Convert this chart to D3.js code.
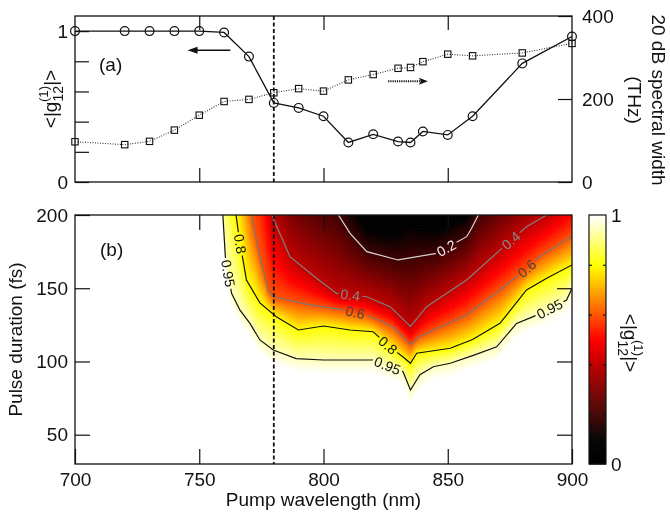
<!DOCTYPE html>
<html><head><meta charset="utf-8">
<script src="https://cdn.jsdelivr.net/npm/d3@7"></script>
<style>
body{margin:0;background:#fff;}
#wrap{position:relative;width:670px;height:514px;overflow:hidden;}
canvas,svg{position:absolute;left:0;top:0;}
text{font-family:"Liberation Sans",Arial,Helvetica,sans-serif;}
</style></head>
<body><div id="wrap"><canvas id="heat" width="670" height="514"></canvas><svg id="chart" width="670" height="514"></svg></div>
<script>
// ---------------- DATA ----------------
// panel (a)
const wavelengths   = [700,720,730,740,750,760,770,780,790,800,810,820,830,835,840,850,860,880,900];
const coherence     = [1.0,1.0,1.0,1.0,1.0,0.991,0.831,0.524,0.491,0.436,0.262,0.316,0.268,0.262,0.335,0.312,0.436,0.786,0.964];
const spectralWidth = [97,90,98,125,161,194,199,215,225,219,246,259,274,276,290,308,304,311,334];
const leftTicks  = [0,0.2,0.4,0.6,0.8,1.0];
const rightTicks = [0,200,400];
const xTickValues = [700,750,800,850,900];
const durTicks = [50,100,150,200];
const pumpMarker = 780;

// panel (b): contour lines read as [wavelength nm, pulse duration fs]
const contourLevels = [0.95,0.8,0.6,0.4,0.2];
const contour095 = [[745,400],[756,230],[759.5,200],[760.5,171.5],[763,146.5],[766.4,135],[770.4,126],[774.4,114.7],[779.8,107.8],[789,102],[800,101],[810,101],[820,101],[832,93],[835,80.5],[838.8,91],[844.2,96.4],[851,98.8],[860,104],[869.7,110],[877.7,126],[884.4,130.6],[891,136],[897.8,142],[900,150]];
const contour080 = [[750,400],[763,215],[764.8,200],[766,185],[769,155.6],[774.4,140],[781,130.6],[789.9,121.5],[800,124.2],[810.7,121.5],[820,120.3],[826,111],[832,103],[835,98.8],[837.5,105.6],[851,109],[860,115],[871,126],[881.7,148.8],[890,157],[900,165.9]];
const contour060 = [[760,400],[769,230],[771,200],[774.4,171.5],[777.8,148.8],[779.8,144.2],[794.6,138.6],[808.6,135],[817.4,131.7],[828,123.7],[835,111.5],[838.8,117],[857.6,131.7],[871,148.8],[881.5,163],[887,171.5],[900,185.7]];
const contour040 = [[770,400],[777,240],[779.2,200],[786.5,171.5],[797.2,156.8],[805.3,146.5],[817.4,144.2],[826.8,137.4],[835,124],[841.5,137.4],[857.6,155.6],[871,176],[881.7,192],[889.8,200],[900,215]];
const contour020 = [[775,400],[780,260],[790,220],[800,207],[806,200],[810.7,187.5],[817.4,175],[830,169.3],[845.5,173.8],[857.6,185.2],[859.6,191],[862.3,200],[872,214],[885,232],[900,258]];
const fringeWidth = 9; // fs between the 0.95 line and fully coherent (white) region
// label anchors: [level, wavelength, duration]
const contourLabels = [[0.95,761.6,160],[0.95,826,98.5],[0.95,891,136],[0.8,765.7,180],[0.8,826,111],[0.6,812.7,133.5],[0.6,881.5,164],[0.4,810.7,145],[0.4,875.7,182],[0.2,849.6,176.6]];

// ---------------- LAYOUT ----------------
const W=670,H=514;
const L=75,R=572, aT=16,aB=182, bT=215,bB=464;
const x = d3.scaleLinear([700,900],[L,R]);
const yLeft = d3.scaleLinear([0,1.1],[aB,aT]);
const yRight = d3.scaleLinear([0,400],[aB,aT]);
const yDur = d3.scaleLinear([30,200],[bB,bT]);
const cbX0=589, cbX1=606;
const yCb = d3.scaleLinear([0,1],[bB,bT]);
const FS=19;

function heatColor(v){
  const c = t=>Math.max(0,Math.min(1,t));
  const r=c((v-0.1)/0.4), g=c((v-0.5)/0.3), b=c((v-0.8)/0.2);
  return `rgb(${Math.round(r*255)},${Math.round(g*255)},${Math.round(b*255)})`;
}
function interp(pairs, lam){
  if(lam<=pairs[0][0]) return pairs[0][1];
  for(let i=1;i<pairs.length;i++){
    if(lam<=pairs[i][0]){const [x0,y0]=pairs[i-1],[x1,y1]=pairs[i]; if(x1===x0) return y1; return y0+(y1-y0)*(lam-x0)/(x1-x0);}
  }
  return pairs[pairs.length-1][1];
}
const contourSets=[contour095,contour080,contour060,contour040,contour020];
function coherenceAt(lam,d){
  const c=contourSets.map(p=>interp(p,lam));
  const cs=[c[0]-fringeWidth,...c];
  const lv=[1,...contourLevels];
  if(d<=cs[0]) return 1;
  for(let i=1;i<cs.length;i++){
    if(d<=cs[i]){const span=cs[i]-cs[i-1]; if(span<=0) return lv[i]; return lv[i-1]+(lv[i]-lv[i-1])*(d-cs[i-1])/span;}
  }
  const n=cs.length; const span=cs[n-1]-cs[n-2];
  const slope=span>0?(lv[n-2]-lv[n-1])/span:0.01;
  return Math.max(0.02, lv[n-1]-slope*(d-cs[n-1]));
}

// ---------------- HEATMAP (canvas) ----------------
const ctx=document.getElementById("heat").getContext("2d");
ctx.save(); ctx.beginPath(); ctx.rect(L,bT,R-L,bB-bT); ctx.clip();
const step=0.5;
for(let lam=700;lam<900;lam+=step){
  for(let d=30;d<200;d+=step){
    const v=coherenceAt(lam+step/2,d+step/2);
    if(v>=0.999) continue;
    ctx.fillStyle=heatColor(v);
    const x0=x(lam),x1=x(lam+step),y0=yDur(d+step),y1=yDur(d);
    ctx.fillRect(x0,y0,x1-x0+0.6,y1-y0+0.6);
  }
}
ctx.restore();

// ---------------- SVG ----------------
const svg=d3.select("#chart");
const defs=svg.append("defs");
defs.append("clipPath").attr("id","clipB").append("rect").attr("x",L).attr("y",bT).attr("width",R-L).attr("height",bB-bT);
defs.append("clipPath").attr("id","clipA").append("rect").attr("x",L).attr("y",aT).attr("width",R-L).attr("height",aB-aT);
const mask=defs.append("mask").attr("id","gapMask").attr("maskUnits","userSpaceOnUse").attr("x",0).attr("y",0).attr("width",W).attr("height",H);
mask.append("rect").attr("width",W).attr("height",H).attr("fill","white");

function styleAxis(g){g.select(".domain").remove(); g.selectAll(".tick line").attr("stroke","#111").attr("stroke-width",1.2); g.selectAll("text").attr("font-size",FS).attr("fill","#111").attr("font-family",null);}

// ---- panel (a)
const pa=svg.append("g");
pa.append("g").attr("transform",`translate(${L},0)`).call(d3.axisLeft(yLeft).tickValues(leftTicks).tickSize(-14).tickPadding(7).tickFormat(d=>(d===0||d===1)?d3.format("d")(d):"")).call(styleAxis);
pa.append("g").attr("transform",`translate(${R},0)`).call(d3.axisRight(yRight).tickValues(rightTicks).tickSize(-14).tickPadding(10).tickFormat(d3.format("d"))).call(styleAxis);
pa.append("g").attr("transform",`translate(0,${aB})`).call(d3.axisBottom(x).tickValues([750,800,850]).tickSize(-14).tickFormat("")).call(styleAxis);
pa.append("g").attr("transform",`translate(0,${aT})`).call(d3.axisTop(x).tickValues([750,800,850]).tickSize(-14).tickFormat("")).call(styleAxis);
pa.append("line").attr("x1",x(pumpMarker)).attr("x2",x(pumpMarker)).attr("y1",aT).attr("y2",aB).attr("stroke","#111").attr("stroke-width",1.8).attr("stroke-dasharray","4,2.5");
const dataA=pa.append("g").attr("clip-path","url(#clipA)");
const sw=wavelengths.map((w,i)=>[w,spectralWidth[i]]);
const co=wavelengths.map((w,i)=>[w,coherence[i]]);
dataA.append("path").attr("d",d3.line().x(d=>x(d[0])).y(d=>yRight(d[1]))(sw)).attr("fill","none").attr("stroke","#333").attr("stroke-width",1.1).attr("stroke-dasharray","1,1.5");
dataA.append("path").attr("d",d3.line().x(d=>x(d[0])).y(d=>yLeft(d[1]))(co)).attr("fill","none").attr("stroke","#111").attr("stroke-width",1.3);
pa.selectAll("rect.sq").data(sw).join("rect").attr("class","sq").attr("x",d=>x(d[0])-3.2).attr("y",d=>yRight(d[1])-3.2).attr("width",6.4).attr("height",6.4).attr("fill","none").attr("stroke","#111").attr("stroke-width",1.1);
pa.selectAll("circle.ci").data(co).join("circle").attr("class","ci").attr("cx",d=>x(d[0])).attr("cy",d=>yLeft(d[1])).attr("r",4.4).attr("fill","none").attr("stroke","#111").attr("stroke-width",1.2);
// arrows
const arrowSolid={from:[762.5,0.873],to:[745.3,0.873]};
pa.append("line").attr("x1",x(arrowSolid.from[0])).attr("x2",x(arrowSolid.to[0])+6).attr("y1",yLeft(arrowSolid.from[1])).attr("y2",yLeft(arrowSolid.to[1])).attr("stroke","#111").attr("stroke-width",1.6);
{const tx=x(arrowSolid.to[0]),ty=yLeft(arrowSolid.to[1]);pa.append("path").attr("d",`M${tx},${ty}L${tx+10},${ty-3.5}L${tx+10},${ty+3.5}Z`).attr("fill","#111");}
const arrowDot={from:[826,243],to:[842,243]};
pa.append("line").attr("x1",x(arrowDot.from[0])).attr("x2",x(arrowDot.to[0])-6).attr("y1",yRight(arrowDot.from[1])).attr("y2",yRight(arrowDot.to[1])).attr("stroke","#111").attr("stroke-width",2).attr("stroke-dasharray","1.2,1");
{const tx=x(arrowDot.to[0]),ty=yRight(arrowDot.to[1]);pa.append("path").attr("d",`M${tx},${ty}L${tx-9},${ty-3.5}L${tx-7},${ty}L${tx-9},${ty+3.5}Z`).attr("fill","#111");}
pa.append("rect").attr("x",L).attr("y",aT).attr("width",R-L).attr("height",aB-aT).attr("fill","none").attr("stroke","#111").attr("stroke-width",1.3);
pa.append("text").attr("x",99).attr("y",71).attr("font-size",FS).attr("fill","#111").text("(a)");

function gLabel(sel,fs){
  const t=sel.append("text").attr("font-size",fs).attr("text-anchor","middle").attr("fill","#111");
  t.append("tspan").text("<|g");
  t.append("tspan").attr("font-size",fs*0.74).attr("dy",fs*0.3).text("12");
  t.append("tspan").attr("font-size",fs*0.7).attr("dx",-fs*0.74*1.15).attr("dy",-fs*0.8).text("(1)");
  t.append("tspan").attr("dy",fs*0.5).text("|>");
  return t;
}
gLabel(svg.append("g").attr("transform","translate(57,99) rotate(-90)"),FS);
const rl=svg.append("g").attr("transform","translate(652,100) rotate(90)");
rl.append("text").attr("text-anchor","middle").attr("font-size",FS).attr("fill","#111").text("20 dB spectral width");
rl.append("text").attr("text-anchor","middle").attr("font-size",FS).attr("fill","#111").attr("y",24).text("(THz)");

// ---- panel (b)
const pb=svg.append("g");
const lineB=d3.line().x(d=>x(d[0])).y(d=>yDur(d[1]));
const contourStroke=["#111","#111","#777","#808080","#d8d8d8"];
const labelFill=["#111","#111","#444","#8a8a8a","#f0f0f0"];
const linesG=pb.append("g").attr("clip-path","url(#clipB)").append("g").attr("mask","url(#gapMask)");
const paths=contourSets.map((pts,i)=>linesG.append("path").attr("d",lineB(pts)).attr("fill","none").attr("stroke",contourStroke[i]).attr("stroke-width",1.2));
const labelG=pb.append("g");
contourLabels.forEach(([level,lam,dur])=>{
  const i=contourLevels.indexOf(level);
  const node=paths[i].node(); const Ltot=node.getTotalLength();
  const tx=x(lam),ty=yDur(dur);
  let best=0,bd=1e12;
  for(let s=0;s<=Ltot;s+=0.5){const p=node.getPointAtLength(s);const dd=(p.x-tx)**2+(p.y-ty)**2;if(dd<bd){bd=dd;best=s;}}
  const p=node.getPointAtLength(best),a=node.getPointAtLength(Math.max(0,best-11)),b=node.getPointAtLength(Math.min(Ltot,best+11));
  let ang=Math.atan2(b.y-a.y,b.x-a.x)*180/Math.PI;
  if(ang>90)ang-=180; if(ang<=-90)ang+=180;
  const tr=`translate(${p.x},${p.y}) rotate(${ang})`;
  const t=labelG.append("text").attr("transform",tr).attr("text-anchor","middle").attr("dy","0.36em").attr("font-size",14).attr("fill",labelFill[i]).text(level);
  const w=t.node().getComputedTextLength();
  mask.append("rect").attr("x",-w/2-2).attr("y",-6).attr("width",w+4).attr("height",12).attr("transform",tr).attr("fill","black");
});
pb.append("line").attr("x1",x(pumpMarker)).attr("x2",x(pumpMarker)).attr("y1",bT).attr("y2",bB).attr("stroke","#111").attr("stroke-width",1.8).attr("stroke-dasharray","4,2.5");
pb.append("g").attr("transform",`translate(${L},0)`).call(d3.axisLeft(yDur).tickValues(durTicks).tickSize(-15).tickPadding(7).tickFormat(d3.format("d"))).call(styleAxis);
pb.append("g").attr("transform",`translate(${R},0)`).call(d3.axisRight(yDur).tickValues([50,100,150]).tickSize(-15).tickFormat("")).call(styleAxis);
pb.append("g").attr("transform",`translate(0,${bB})`).call(d3.axisBottom(x).tickValues(xTickValues).tickSize(-15).tickPadding(9).tickFormat(d3.format("d"))).call(styleAxis);
pb.append("g").attr("transform",`translate(0,${bT})`).call(d3.axisTop(x).tickValues([750,800,850]).tickSize(-15).tickFormat("")).call(styleAxis);
pb.append("rect").attr("x",L).attr("y",bT).attr("width",R-L).attr("height",bB-bT).attr("fill","none").attr("stroke","#111").attr("stroke-width",1.3);
pb.append("text").attr("x",100).attr("y",256).attr("font-size",FS).attr("fill","#111").text("(b)");
svg.append("text").attr("transform",`translate(22,${(bT+bB)/2}) rotate(-90)`).attr("text-anchor","middle").attr("font-size",FS).attr("fill","#111").text("Pulse duration (fs)");
svg.append("text").attr("x",(L+R)/2).attr("y",506).attr("text-anchor","middle").attr("font-size",FS).attr("fill","#111").text("Pump wavelength (nm)");

// ---- colorbar
const cb=svg.append("g");
const nCb=250;
cb.selectAll("rect.cbc").data(d3.range(nCb)).join("rect").attr("class","cbc")
  .attr("x",cbX0).attr("width",cbX1-cbX0)
  .attr("y",i=>yCb((i+1)/nCb)).attr("height",i=>yCb(i/nCb)-yCb((i+1)/nCb)+0.6)
  .attr("fill",i=>heatColor((i+0.5)/nCb));
cb.append("g").attr("transform",`translate(${cbX0},0)`).call(d3.axisLeft(yCb).tickValues([0.2,0.4,0.6,0.8]).tickSize(-3).tickFormat("")).call(styleAxis);
cb.append("g").attr("transform",`translate(${cbX1},0)`).call(d3.axisRight(yCb).tickValues([0.2,0.4,0.6,0.8]).tickSize(-3).tickFormat("")).call(styleAxis);
cb.append("g").attr("transform",`translate(${cbX1},0)`).call(d3.axisRight(yCb).tickValues([0,1]).tickSize(0).tickPadding(5).tickFormat(d3.format("d"))).call(styleAxis);
cb.append("rect").attr("x",cbX0).attr("y",bT).attr("width",cbX1-cbX0).attr("height",bB-bT).attr("fill","none").attr("stroke","#111").attr("stroke-width",1.2);
gLabel(svg.append("g").attr("transform","translate(624,343) rotate(90)"),FS);
</script></body></html>
